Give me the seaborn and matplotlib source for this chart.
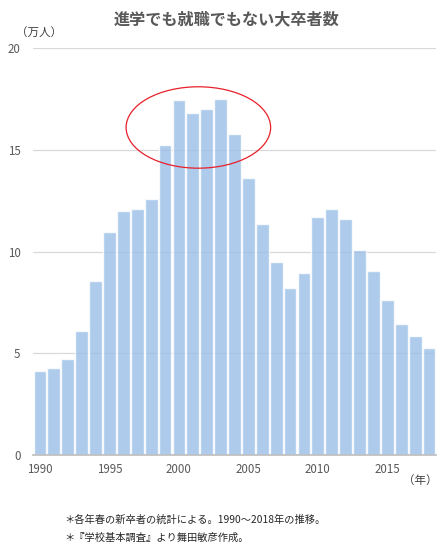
import matplotlib
matplotlib.use('Agg')
import matplotlib.pyplot as plt
from matplotlib.patches import Ellipse
import seaborn as sns
import pandas as pd

# Data (unit: 10,000 people)
years = list(range(1990, 2019))
graduates = [4.14, 4.30, 4.74, 6.12, 8.57, 10.94, 12.02, 12.07, 12.58, 15.22,
             17.44, 16.80, 17.00, 17.49, 15.76, 13.60, 11.38, 9.51, 8.23, 8.97,
             11.72, 12.07, 11.58, 10.10, 9.06, 7.64, 6.45, 5.86, 5.27]
tick_years = [1990, 1995, 2000, 2005, 2010, 2015]
y_ticks = [0, 5, 10, 15, 20]

title = '進学でも就職でもない大卒者数'
y_unit = '（万人）'
x_unit = '（年）'
notes = ['＊各年春の新卒者の統計による。1990～2018年の推移。',
         '＊『学校基本調査』より舞田敏彦作成。']

df = pd.DataFrame({'year': years, 'count': graduates})

sns.set_theme(style='white')
plt.rcParams['font.family'] = ['Noto Sans CJK JP', 'DejaVu Sans']

text_color = '#595959'
fig = plt.figure(figsize=(4.44, 5.53), dpi=100)
ax = fig.add_axes([0.0743, 0.177, 0.9077, 0.736])

ax.yaxis.grid(True, color='#D9D9D9', linewidth=0.9)
ax.set_axisbelow(True)
sns.barplot(data=df, x='year', y='count', color='#9ABEE6', alpha=0.8,
            width=0.92, saturation=1, ax=ax)

ax.set_xlim(-0.5, len(years) - 0.5)
ax.set_ylim(0, 20)
ax.set_yticks(y_ticks)
ax.set_yticklabels([str(v) for v in y_ticks], fontsize=8.3, color=text_color)
ax.set_xticks([years.index(y) for y in tick_years])
ax.set_xticklabels([str(y) for y in tick_years], fontsize=8.3, color=text_color)
ax.tick_params(axis='x', length=0, pad=6)
ax.tick_params(axis='y', length=0, pad=9)
ax.set_xlabel('')
ax.set_ylabel('')
for side in ['top', 'right', 'left']:
    ax.spines[side].set_visible(False)
ax.spines['bottom'].set_color('#BFBFBF')

# red ellipse around the peak years
ax.add_patch(Ellipse((years.index(2001) + 0.4, 16.1), 10.4, 4.0,
                     fill=False, edgecolor='#E8202A', linewidth=0.9,
                     clip_on=False))

fig.text(0.511, 0.966, title, ha='center', va='center', fontsize=11.6,
         fontweight='bold', color=text_color)
fig.text(0.036, 0.94, y_unit, ha='left', va='center', fontsize=8.3,
         color='#404040')
fig.text(0.908, 0.132, x_unit, ha='left', va='center', fontsize=8.3,
         color='#404040')
fig.text(0.144, 0.060, notes[0], ha='left', va='center', fontsize=7.4,
         color='#262626')
fig.text(0.144, 0.027, notes[1], ha='left', va='center', fontsize=7.4,
         color='#262626')

fig.savefig('out.png', dpi=100)
